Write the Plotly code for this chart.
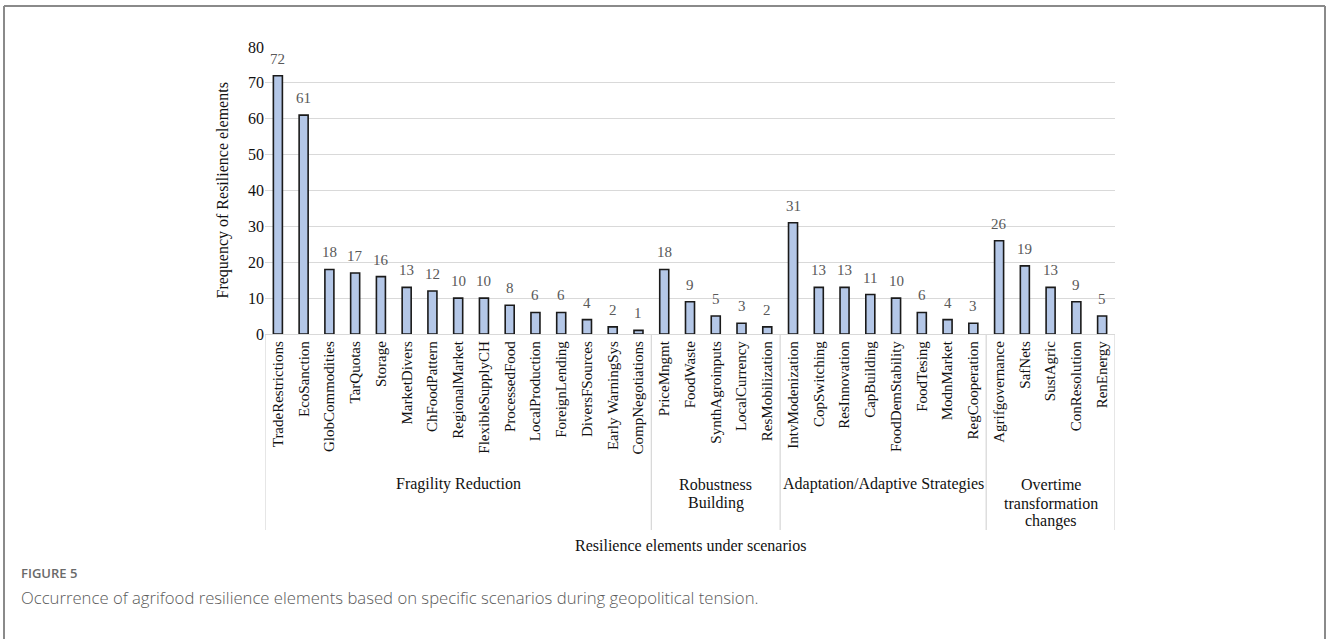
import plotly.graph_objects as go

# Resilience elements and their frequencies, grouped by scenario
group_lines = [["Fragility Reduction"], ["Robustness", "Building"],
               ["Adaptation/Adaptive Strategies"], ["Overtime", "transformation", "changes"]]
fragility = ["TradeRestrictions", "EcoSanction", "GlobCommodities", "TarQuotas", "Storage",
             "MarketDivers", "ChFoodPattern", "RegionalMarket", "FlexibleSupplyCH",
             "ProcessedFood", "LocalProduction", "ForeignLending", "DiversFSources",
             "Early WarningSys", "CompNegotiations"]
fragility_vals = [72, 61, 18, 17, 16, 13, 12, 10, 10, 8, 6, 6, 4, 2, 1]
robustness = ["PriceMngmt", "FoodWaste", "SynthAgroinputs", "LocalCurrency", "ResMobilization"]
robustness_vals = [18, 9, 5, 3, 2]
adaptation = ["IntvModenization", "CopSwitching", "ResInnovation", "CapBuilding",
              "FoodDemStability", "FoodTesing", "ModnMarket", "RegCooperation"]
adaptation_vals = [31, 13, 13, 11, 10, 6, 4, 3]
overtime = ["Agrifgovernance", "SafNets", "SustAgric", "ConResolution", "RenEnergy"]
overtime_vals = [26, 19, 13, 9, 5]
y_ticks = [0, 10, 20, 30, 40, 50, 60, 70, 80]

cat_lists = [fragility, robustness, adaptation, overtime]
val_lists = [fragility_vals, robustness_vals, adaptation_vals, overtime_vals]
categories = [c for lst in cat_lists for c in lst]
values = [v for lst in val_lists for v in lst]

W, H = 1328, 639
L, R, T, B = 265, 1115, 47, 334  # plot area in pixels
pw, ph = R - L, B - T


def px(x):
    return (x - L) / pw


def py(y):
    return (B - y) / ph


SERIF = "Liberation Serif, Times New Roman, serif"

fig = go.Figure(go.Bar(
    x=categories, y=values,
    marker=dict(color="#B4C7E7", line=dict(color="#1a1a1a", width=1.6)),
    cliponaxis=False,
))

shapes = []
annotations = []

# value labels above each bar
for c, v in zip(categories, values):
    annotations.append(dict(
        x=c, xref="x", y=v, yref="y", text=str(v), showarrow=False,
        xanchor="center", yanchor="middle", yshift=17,
        font=dict(family=SERIF, size=15, color="#595959"),
    ))

# group dividers and group labels (one annotation per line for tight spacing)
line_y = [484, 503, 521]
start = 0
bounds = [-0.5]
for lines, lst in zip(group_lines, cat_lists):
    end = start + len(lst)
    bounds.append(end - 0.5)
    for i, t in enumerate(lines):
        annotations.append(dict(
            x=(start + end - 1) / 2, xref="x", y=py(line_y[i]), yref="paper",
            text=t, showarrow=False, yanchor="middle", xanchor="center",
            font=dict(family=SERIF, size=16, color="#111"),
        ))
    start = end
for b in bounds:
    shapes.append(dict(type="line", xref="x", yref="paper", x0=b, x1=b,
                       y0=0, y1=py(530), line=dict(color="#d9d9d9", width=1.3)))

# axis titles
annotations.append(dict(
    x=0.5, xref="paper", y=py(545), yref="paper", text="Resilience elements under scenarios",
    showarrow=False, xanchor="center", yanchor="middle",
    font=dict(family=SERIF, size=16, color="#111"),
))
annotations.append(dict(
    x=px(222), xref="paper", y=0.5, yref="paper", text="Frequency of Resilience elements",
    textangle=-90, showarrow=False, xanchor="center", yanchor="middle",
    font=dict(family=SERIF, size=16, color="#111"),
))

# caption
annotations.append(dict(
    x=px(19), xref="paper", y=py(573), yref="paper", text="FIGURE 5",
    showarrow=False, xanchor="left", yanchor="middle",
    font=dict(family="Open Sans, sans-serif", size=13, color="#6a6a6a", weight=600),
))
annotations.append(dict(
    x=px(19), xref="paper", y=py(597), yref="paper",
    text="Occurrence of agrifood resilience elements based on specific scenarios during geopolitical tension.",
    showarrow=False, xanchor="left", yanchor="middle",
    font=dict(family="Open Sans, sans-serif", size=16.7, color="#5a5a5a", weight=300),
))

# outer frame (top, left, right)
frame = dict(color="#8a8a8a", width=2)
shapes.append(dict(type="line", xref="paper", yref="paper",
                   x0=px(4), x1=px(1325), y0=py(6), y1=py(6), line=frame))
shapes.append(dict(type="line", xref="paper", yref="paper",
                   x0=px(4), x1=px(4), y0=py(6), y1=py(645), line=frame))
shapes.append(dict(type="line", xref="paper", yref="paper",
                   x0=px(1325), x1=px(1325), y0=py(6), y1=py(645), line=frame))

fig.update_layout(
    width=W, height=H,
    margin=dict(l=L, r=W - R, t=T, b=H - B),
    paper_bgcolor="white", plot_bgcolor="white",
    bargap=0.65, showlegend=False,
    shapes=shapes, annotations=annotations,
    xaxis=dict(
        type="category", tickangle=-90, showgrid=False, ticks="",
        tickfont=dict(family=SERIF, size=15, color="#111"),
        showline=True, linecolor="#d9d9d9", linewidth=1.3,
        range=[-0.5, len(categories) - 0.5],
    ),
    yaxis=dict(
        range=[0, 80], tickvals=y_ticks, showgrid=True, gridcolor="#d9d9d9", gridwidth=1.3,
        zeroline=False, showline=False, ticks="",
        tickfont=dict(family=SERIF, size=16, color="#111"),
    ),
)

fig.write_html("out.html")
